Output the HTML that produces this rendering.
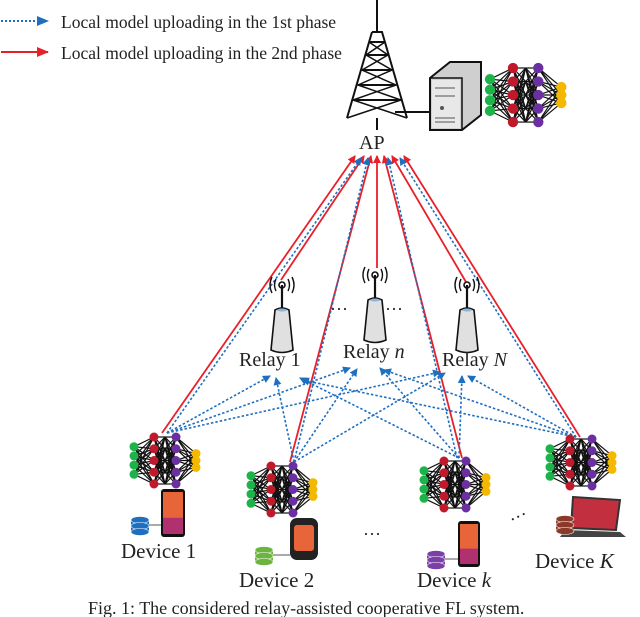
<!DOCTYPE html>
<html><head><meta charset="utf-8"><style>
body{margin:0;background:#fff}
svg{display:block}
text{font-family:"Liberation Serif",serif;fill:#222}
</style></head><body>
<svg id="s" width="640" height="617" viewBox="0 0 640 617" xmlns="http://www.w3.org/2000/svg">
<defs>
<marker id="ab" markerWidth="8" markerHeight="8" refX="7" refY="4" orient="auto" markerUnits="userSpaceOnUse"><path d="M0,0 L8,4 L0,8 z" fill="#1f6fc0"/></marker>
<marker id="ar" markerWidth="8" markerHeight="8" refX="7" refY="4" orient="auto" markerUnits="userSpaceOnUse"><path d="M0,0 L8,4 L0,8 z" fill="#e8202a"/></marker>
<marker id="abl" markerWidth="12" markerHeight="10" refX="11" refY="5" orient="auto" markerUnits="userSpaceOnUse"><path d="M0,0 L12,5 L0,10 z" fill="#1f6fc0"/></marker>
<marker id="arl" markerWidth="12" markerHeight="10" refX="11" refY="5" orient="auto" markerUnits="userSpaceOnUse"><path d="M0,0 L12,5 L0,10 z" fill="#e8202a"/></marker>
</defs>
<!-- legend -->
<line x1="1" y1="21" x2="48" y2="21" stroke="#1f6fc0" stroke-width="2" stroke-dasharray="2,2" marker-end="url(#abl)"/>
<text x="61" y="28" font-size="17.5">Local model uploading in the 1st phase</text>
<line x1="1" y1="52" x2="48" y2="52" stroke="#e8202a" stroke-width="2" marker-end="url(#arl)"/>
<text x="61" y="59" font-size="17.5">Local model uploading in the 2nd phase</text>
<g id="lines"></g>
<g id="icons"></g>
<!-- tower -->
<g stroke="#111" stroke-width="2" fill="none">
<line x1="377" y1="0" x2="377" y2="32"/>
<path d="M372,32 L382,32 L407,118 M372,32 L347,118"/>
<path d="M369,42 L385,42 M366,55 L388,55 M362,70 L392,70 M358,85 L396,85 M353,100 L401,100"/>
<path d="M369,42 L388,55 L362,70 L396,85 L353,100 L407,118 M385,42 L366,55 L392,70 L358,85 L401,100 L347,118" stroke-width="1.5"/>
<path d="M377,118 L377,130"/>
<line x1="395" y1="112" x2="430" y2="112"/>
</g>
<text x="359" y="149" font-size="20">AP</text>
<!-- server -->
<g>
<path d="M430,78 L450,62 L481,62 L481,115 L462,130 L430,130 Z" fill="#cfcfcf" stroke="#111" stroke-width="2"/>
<path d="M430,78 L462,78 L462,130" fill="none" stroke="#111" stroke-width="1.5"/>
<rect x="432" y="80" width="28" height="48" fill="#e8e8e8"/>
<line x1="435" y1="88" x2="455" y2="88" stroke="#555"/>
<line x1="435" y1="96" x2="455" y2="96" stroke="#555"/>
<circle cx="442" cy="108" r="2" fill="#555"/>
<line x1="435" y1="118" x2="455" y2="118" stroke="#555"/>
<line x1="435" y1="122" x2="455" y2="122" stroke="#555"/>
</g>
<!-- dots -->
<text x="330" y="315" font-size="18">···</text>
<text x="385" y="315" font-size="18">···</text>
<text x="363" y="540" font-size="18">···</text>
<text x="510" y="522" font-size="18" transform="rotate(-25 520 518)">···</text>
<!-- labels -->
<text x="239" y="366" font-size="20">Relay 1</text>
<text x="343" y="358" font-size="20">Relay <tspan font-style="italic">n</tspan></text>
<text x="442" y="366" font-size="20">Relay <tspan font-style="italic">N</tspan></text>
<text x="121" y="558" font-size="21">Device 1</text>
<text x="239" y="587" font-size="21">Device 2</text>
<text x="417" y="587" font-size="21">Device <tspan font-style="italic">k</tspan></text>
<text x="535" y="568" font-size="21">Device <tspan font-style="italic">K</tspan></text>
<text x="88" y="614" font-size="18">Fig. 1: The considered relay-assisted cooperative FL system.</text>
</svg>
<script>
var NS="http://www.w3.org/2000/svg";
function el(p,t,a){var e=document.createElementNS(NS,t);for(var k in a)e.setAttribute(k,a[k]);p.appendChild(e);return e;}
var L=document.getElementById("lines"),I=document.getElementById("icons");
function blue(x1,y1,x2,y2){el(L,"line",{x1:x1,y1:y1,x2:x2,y2:y2,stroke:"#1f6fc0","stroke-width":1.6,"stroke-dasharray":"2.5,2","marker-end":"url(#ab)"});}
function red(x1,y1,x2,y2){el(L,"line",{x1:x1,y1:y1,x2:x2,y2:y2,stroke:"#e8202a","stroke-width":1.8,"marker-end":"url(#ar)"});}
red(162,433,355,156);red(281,280,364,156);red(290,462,371,156);red(377,268,377,156);
red(462,458,384,156);red(466,282,392,156);red(580,437,404,156);
blue(167,433,361,158);blue(294,462,368,158);blue(457,458,388,158);blue(576,437,400,158);
var dev=[[167,433],[294,462],[459,458],[576,437]];
var tg=[[ [270,376],[350,368],[440,372] ],[ [276,378],[357,369],[445,373] ],[ [300,378],[380,368],[462,376] ],[ [302,380],[384,370],[468,376] ]];
for(var d=0;d<4;d++)for(var r=0;r<3;r++)blue(dev[d][0],dev[d][1],tg[d][r][0],tg[d][r][1]);
function relay(x,y){
 el(I,"path",{d:"M"+(x-11)+","+(y+40)+" L"+(x-7)+","+(y)+" Q"+x+","+(y-4)+" "+(x+7)+","+y+" L"+(x+11)+","+(y+40)+" Q"+x+","+(y+45)+" "+(x-11)+","+(y+40)+"Z",fill:"#e0e0e0",stroke:"#111","stroke-width":1.6});
 el(I,"ellipse",{cx:x,cy:y,rx:5,ry:1.5,fill:"#8ab4d8"});
 el(I,"line",{x1:x,y1:y-2,x2:x,y2:y-25,stroke:"#111","stroke-width":2.2});
 el(I,"circle",{cx:x,cy:y-25,r:3,fill:"none",stroke:"#111","stroke-width":1.6});
 el(I,"path",{d:"M"+(x-6)+","+(y-31)+" Q"+(x-9)+","+(y-25)+" "+(x-6)+","+(y-19)+" M"+(x+6)+","+(y-31)+" Q"+(x+9)+","+(y-25)+" "+(x+6)+","+(y-19)+" M"+(x-10)+","+(y-33)+" Q"+(x-14)+","+(y-25)+" "+(x-10)+","+(y-17)+" M"+(x+10)+","+(y-33)+" Q"+(x+14)+","+(y-25)+" "+(x+10)+","+(y-17),fill:"none",stroke:"#111","stroke-width":1.4});
}
relay(282,310);relay(375,300);relay(467,310);
function nn(x,y,s){
 var cols=[[0,4,"#1db34a"],[20,5,"#c0192b"],[31,5,"#111"],[42,5,"#6a2fa0"],[62,3,"#f5b800"]];
 var pts=cols.map(function(c){var n=c[1],arr=[];var h=(n-1)*11.5*(n==4?0.8:n==3?0.6:1);var top=(47-h)/2;if(n==5){top=0;h=47;}
  for(var i=0;i<n;i++)arr.push([x+c[0]*s,y+(top+(n>1?i*h/(n-1):0))*s]);return arr;});
 for(var k=0;k<4;k++)for(var a=0;a<pts[k].length;a++)for(var b=0;b<pts[k+1].length;b++)
  el(I,"line",{x1:pts[k][a][0],y1:pts[k][a][1],x2:pts[k+1][b][0],y2:pts[k+1][b][1],stroke:"#111","stroke-width":1.2});
 for(var k=0;k<5;k++)if(k!=2)pts[k].forEach(function(p){el(I,"circle",{cx:p[0],cy:p[1],r:4.5*s,fill:cols[k][2]});});
}
nn(134,437,1);nn(251,466,1);nn(424,461,1);nn(550,439,1);nn(490,68,1.15);
function phone(x,y,w,h){el(I,"rect",{x:x,y:y,width:w,height:h,rx:3,fill:"#111"});
 el(I,"rect",{x:x+2,y:y+3,width:w-4,height:h-6,fill:"#e8653a"});
 el(I,"rect",{x:x+2,y:y+h*0.6,width:w-4,height:h*0.4-3,fill:"#b03070"});}
function db(x,y,c){el(I,"rect",{x:x-9,y:y,width:18,height:12,fill:c});for(var i=0;i<3;i++)el(I,"ellipse",{cx:x,cy:y+i*6,rx:9,ry:3.5,fill:c,stroke:"#fff","stroke-width":0.6});}
phone(161,489,24,48);db(140,520,"#1f6fc0");el(I,"line",{x1:149,y1:525,x2:161,y2:525,stroke:"#555"});
el(I,"rect",{x:290,y:518,width:28,height:42,rx:7,fill:"#222"});el(I,"rect",{x:294,y:525,width:20,height:26,rx:3,fill:"#e8653a"});
db(264,550,"#6cb33f");el(I,"line",{x1:273,y1:555,x2:290,y2:555,stroke:"#555"});
phone(458,521,22,46);db(436,554,"#7b3fa8");el(I,"line",{x1:445,y1:559,x2:458,y2:559,stroke:"#555"});
el(I,"path",{d:"M573,497 L620,500 L616,530 L571,528 Z",fill:"#c23040",stroke:"#333","stroke-width":2});
el(I,"path",{d:"M565,530 L620,532 L626,537 L560,537 Z",fill:"#444"});
db(565,519,"#8b3a2a");
</script>
</body></html>
